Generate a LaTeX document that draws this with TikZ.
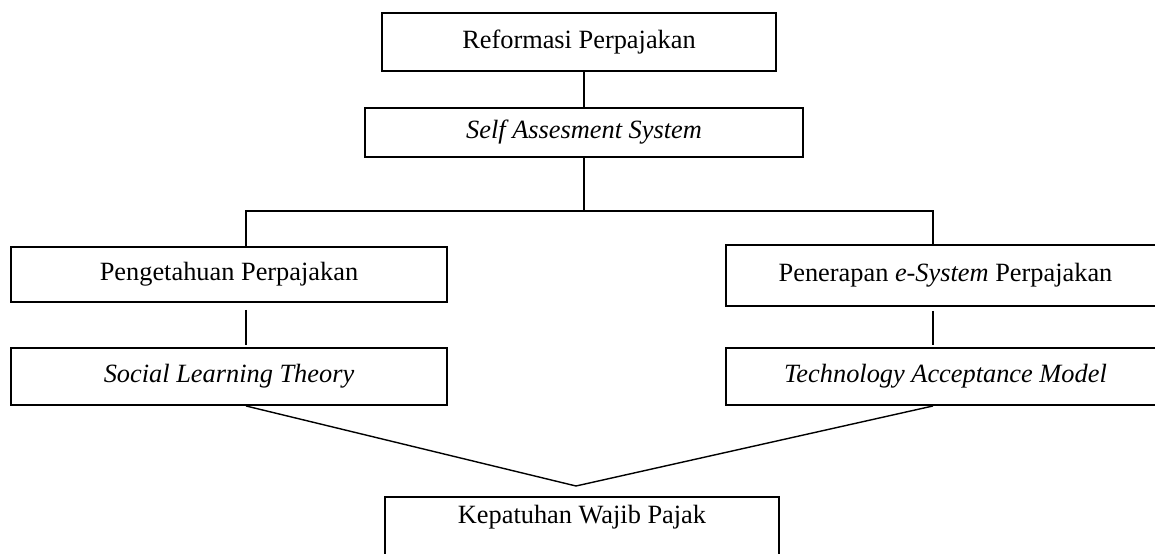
\documentclass[tikz,border=0pt]{standalone}
\usepackage{fontspec}
\setmainfont{Liberation Serif}
\usepackage{tikz}

\begin{document}
\begin{tikzpicture}[x=0.2mm,y=-0.2mm]
\tikzstyle{kotak} = [draw, line width=1.1pt, inner sep=0pt, font=\fontsize{15}{17}\selectfont]
\tikzstyle{garis} = [line width=0.8pt]
\useasboundingbox (0,0) rectangle (1155,554);
\clip (0,0) rectangle (1155,554);
\node[kotak, minimum width=78.8mm, minimum height=11.6mm] (reformasi) at (579,42) {Reformasi Perpajakan};
\node[kotak, minimum width=87.6mm, minimum height=9.8mm] (self) at (584,132.5) {\textit{Self Assesment System}};
\node[kotak, minimum width=87.2mm, minimum height=11mm] (pengetahuan) at (229,274.5) {Pengetahuan Perpajakan};
\node[kotak, minimum width=87.2mm, minimum height=11.4mm] (social) at (229,376.5) {\textit{Social Learning Theory}};
\node[kotak, minimum width=87.8mm, minimum height=12.2mm] (penerapan) at (945.5,275.5) {Penerapan \textit{e-System} Perpajakan};
\node[kotak, minimum width=87.8mm, minimum height=11.4mm] (technology) at (945.5,376.5) {\textit{Technology Acceptance Model}};
\node[kotak, minimum width=78.8mm, text height=5.4mm, text depth=12mm, anchor=north] (kepatuhan) at (582,496) {Kepatuhan Wajib Pajak};
\coordinate (kiri) at (246,211);
\coordinate (kanan) at (933,211);
\coordinate (puncak) at (576,486);
\draw[garis] (self.north) -- (self.north |- reformasi.south);
\draw[garis] (self.south) -- (self.south |- kiri);
\draw[garis] (kiri |- pengetahuan.north) -- (kiri) -- (kanan) -- (kanan |- penerapan.north);
\draw[garis, shorten <=1.4mm, shorten >=0.4mm] (kiri |- pengetahuan.south) -- (kiri |- social.north);
\draw[garis, shorten <=0.8mm, shorten >=0.4mm] (kanan |- penerapan.south) -- (kanan |- technology.north);
\draw[garis] (kiri |- social.south) -- (puncak) -- (kanan |- technology.south);
\end{tikzpicture}
\end{document}
